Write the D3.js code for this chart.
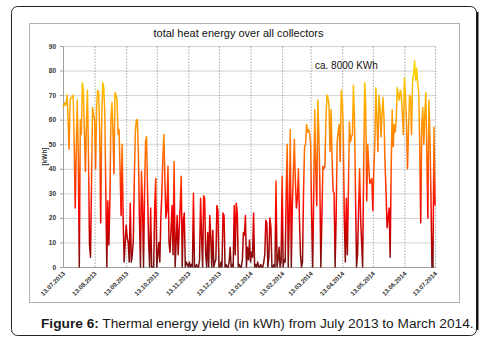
<!DOCTYPE html>
<html>
<head>
<meta charset="utf-8">
<script src="https://cdn.jsdelivr.net/npm/d3@7"></script>
<style>
  body { margin: 0; background: #fff; }
  svg text { font-family: "Liberation Sans", Arial, sans-serif; }
</style>
</head>
<body>
<svg id="chart" width="483" height="342"></svg>
<script>
// daily yield in kWh, 13th of each month to the 12th of the next
const jul2013 = [65, 66, 67, 66, 70, 60, 48, 68, 69, 69, 70, 50, 24, 47, 68, 45, 0, 60, 54, 75, 72, 55, 39, 58, 72, 45, 9, 4, 35, 65, 62];
const aug2013 = [60, 40, 65, 72, 71, 55, 18, 60, 75, 73, 63, 30, 0, 27, 9, 27, 60, 67, 55, 38, 71, 70, 68, 54, 56, 40, 21, 50, 20, 2, 10];
const sep2013 = [17, 12, 10, 2, 26, 2, 5, 11, 36, 55, 60, 60, 45, 20, 0, 39, 26, 0, 30, 51, 53, 30, 10, 0, 24, 0, 0, 0, 25, 36];
const oct2013 = [0, 5, 10, 2, 20, 30, 45, 54, 35, 20, 23, 41, 10, 6, 15, 25, 5, 43, 0, 10, 21, 5, 15, 25, 37, 0, 19, 22, 0, 2, 1];
const nov2013 = [0, 2, 0, 1, 0, 30, 0, 0, 1, 0, 0, 3, 28, 12, 0, 29, 28, 5, 0, 14, 0, 21, 12, 0, 15, 0, 2, 3, 25, 23];
const dec2013 = [0, 0, 2, 0, 22, 21, 0, 1, 0, 0, 2, 8, 0, 1, 0, 25, 5, 26, 22, 0, 1, 0, 0, 3, 14, 13, 21, 0, 8, 3, 11];
const jan2014 = [2, 6, 4, 22, 0, 1, 0, 2, 0, 0, 1, 0, 0, 2, 5, 19, 18, 0, 4, 20, 16, 0, 0, 1, 0, 35, 0, 3, 8, 0, 2];
const feb2014 = [37, 0, 3, 2, 30, 50, 0, 20, 56, 0, 25, 38, 52, 35, 24, 28, 40, 20, 5, 0, 2, 30, 49, 50, 58, 55, 56, 54];
const mar2014 = [50, 20, 0, 30, 64, 40, 25, 68, 55, 35, 0, 20, 41, 40, 41, 60, 70, 69, 66, 47, 64, 45, 31, 30, 0, 20, 51, 55, 58, 43, 72];
const apr2014 = [68, 55, 20, 2, 28, 5, 30, 59, 51, 53, 54, 74, 60, 30, 0, 5, 23, 40, 20, 10, 0, 40, 75, 66, 27, 50, 41, 34, 35, 36];
const may2014 = [23, 40, 51, 73, 60, 47, 70, 65, 53, 62, 69, 60, 42, 30, 16, 20, 24, 4, 40, 64, 49, 58, 55, 60, 73, 70, 68, 72, 70, 62, 54];
const jun2014 = [77, 70, 60, 40, 55, 70, 69, 54, 76, 79, 84, 76, 81, 75, 71, 50, 18, 58, 65, 50, 62, 71, 45, 20, 68, 54, 30, 0, 0, 57, 25];

const firstDay = '13.07.2013';
const monthTicks = ['13.07.2013', '13.08.2013', '13.09.2013', '13.10.2013', '13.11.2013', '13.12.2013',
  '13.01.2014', '13.02.2014', '13.03.2014', '13.04.2014', '13.05.2014', '13.06.2014', '13.07.2014'];
const yTicks = [0, 10, 20, 30, 40, 50, 60, 70, 80, 90];

const parse = d3.timeParse('%d.%m.%Y');
const start = parse(firstDay);
const values = [].concat(jul2013, aug2013, sep2013, oct2013, nov2013, dec2013,
  jan2014, feb2014, mar2014, apr2014, may2014, jun2014);
const data = values.map((v, i) => ({ date: d3.timeDay.offset(start, i), value: v }));

const svg = d3.select('#chart');

// outer frame and chart box
svg.append('rect')
  .attr('x', 11.5).attr('y', 6.5).attr('width', 465).attr('height', 329)
  .attr('rx', 6).attr('fill', 'none').attr('stroke', '#222').attr('stroke-width', 1);
svg.append('line')
  .attr('x1', 477.5).attr('x2', 477.5).attr('y1', 12).attr('y2', 330)
  .attr('stroke', '#111').attr('stroke-width', 2);
svg.append('rect')
  .attr('x', 29.5).attr('y', 23.5).attr('width', 430).attr('height', 279)
  .attr('fill', '#fff').attr('stroke', '#b0b0b0').attr('stroke-width', 1);

const plotL = 63, plotR = 435, plotT = 46, plotB = 267;

const x = d3.scaleTime()
  .domain([parse(monthTicks[0]), parse(monthTicks[monthTicks.length - 1])])
  .range([plotL, plotR]);

const y = d3.scaleLinear()
  .domain([0, 90])
  .range([plotB, plotT]);

// horizontal grid
svg.append('g')
  .attr('transform', `translate(${plotL},0)`)
  .call(d3.axisLeft(y).tickValues(yTicks).tickSize(-(plotR - plotL)).tickFormat(''))
  .call(g => g.select('.domain').remove())
  .call(g => g.selectAll('line').attr('stroke', '#d2d2d2').attr('stroke-width', 1));

// vertical month lines
svg.append('g')
  .attr('transform', `translate(0,${plotB})`)
  .call(d3.axisBottom(x).tickValues(monthTicks.slice(1).map(parse)).tickSize(-(plotB - plotT)).tickFormat(''))
  .call(g => g.select('.domain').remove())
  .call(g => g.selectAll('line').attr('stroke', '#a6a6a6').attr('stroke-dasharray', '1.5,1.5'));

// y axis
svg.append('g')
  .attr('transform', `translate(${plotL},0)`)
  .call(d3.axisLeft(y).tickValues(yTicks).tickSize(3).tickPadding(4))
  .call(g => g.select('.domain').attr('stroke', '#a0a0a0'))
  .call(g => g.selectAll('line').attr('stroke', '#a0a0a0'))
  .call(g => g.selectAll('text')
    .attr('fill', '#333').attr('font-size', 6.5).attr('font-weight', 'bold')
    .attr('font-family', '"Liberation Sans", Arial, sans-serif'));

// x axis line and rotated date labels
svg.append('g')
  .attr('transform', `translate(0,${plotB})`)
  .call(d3.axisBottom(x).tickValues(monthTicks.map(parse)).tickSize(0).tickFormat(d3.timeFormat('%d.%m.%Y')))
  .call(g => g.select('.domain').attr('stroke', '#a0a0a0'))
  .call(g => g.selectAll('text')
    .attr('fill', '#333').attr('font-size', 6.3).attr('font-weight', 'bold')
    .attr('font-family', '"Liberation Sans", Arial, sans-serif')
    .attr('text-anchor', 'end')
    .attr('dy', null).attr('y', 0)
    .attr('transform', 'translate(2,7) rotate(-45)'));

// colour by value: dark red at zero up to yellow at the top
const defs = svg.append('defs');
const grad = defs.append('linearGradient')
  .attr('id', 'heat')
  .attr('gradientUnits', 'userSpaceOnUse')
  .attr('x1', 0).attr('x2', 0)
  .attr('y1', y(0)).attr('y2', y(90));
const stops = [
  [0, '#6e1414'], [10, '#b40000'], [22, '#f50000'], [32, '#ff2a00'],
  [45, '#ff6a00'], [58, '#ff9500'], [70, '#ffb400'], [80, '#ffd200'], [90, '#ffea00']
];
grad.selectAll('stop')
  .data(stops)
  .join('stop')
  .attr('offset', d => d[0] / 90)
  .attr('stop-color', d => d[1]);

const line = d3.line()
  .x(d => x(d.date))
  .y(d => y(d.value));

svg.append('path')
  .datum(data)
  .attr('d', line)
  .attr('fill', 'none')
  .attr('stroke', 'url(#heat)')
  .attr('stroke-width', 1.5)
  .attr('stroke-linejoin', 'round');

// texts
svg.append('text')
  .attr('x', 238.5).attr('y', 37)
  .attr('text-anchor', 'middle')
  .attr('font-size', 11).attr('fill', '#111')
  .text('total heat energy over all collectors');

svg.append('text')
  .attr('transform', `translate(47,${(plotT + plotB) / 2}) rotate(-90)`)
  .attr('text-anchor', 'middle')
  .attr('font-size', 6.5).attr('font-weight', 'bold').attr('fill', '#333')
  .text('[kWh]');

svg.append('text')
  .attr('x', 315).attr('y', 69)
  .attr('font-size', 10).attr('fill', '#111')
  .text('ca. 8000 KWh');

const caption = svg.append('text')
  .attr('x', 41).attr('y', 328)
  .attr('font-size', 13.7).attr('fill', '#1a1a1a');
caption.append('tspan').attr('font-weight', 'bold').text('Figure 6:');
caption.append('tspan').text(' Thermal energy yield (in kWh) from July 2013 to March 2014.');
</script>
</body>
</html>
